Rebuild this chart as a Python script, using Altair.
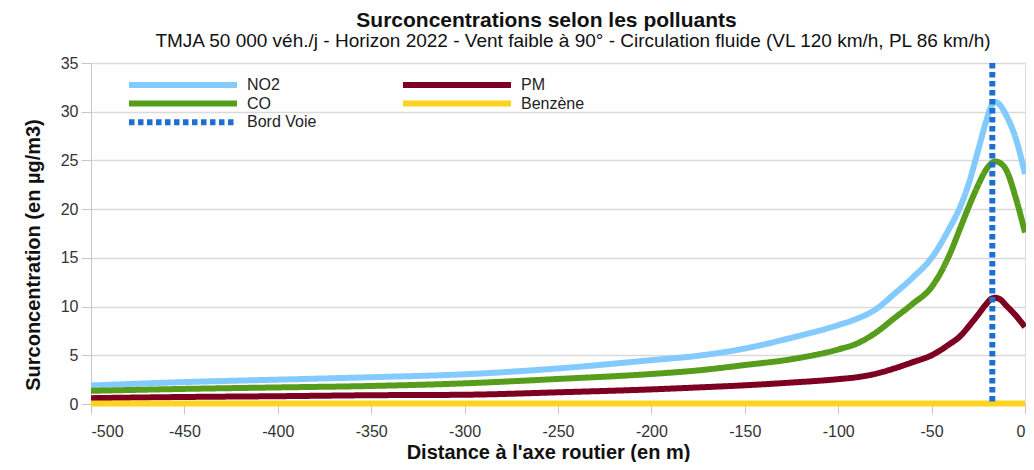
import altair as alt
import pandas as pd

# ---- data ----
distance = [-500, -450, -400, -350, -300, -250, -200, -175, -150, -125, -100, -90, -80,
            -70, -60, -50, -40, -35, -30, -25, -21, -18, -16, -13, -10, -5, 0]
no2 = [1.9, 2.25, 2.5, 2.75, 3.05, 3.65, 4.5, 4.95, 5.7, 6.8, 8.1, 8.75, 9.7,
       11.3, 13.0, 15.0, 18.2, 20.1, 22.7, 26.1, 28.9, 30.6, 31.0, 30.6, 29.6, 27.3, 23.6]
co = [1.35, 1.55, 1.7, 1.85, 2.12, 2.57, 3.08, 3.45, 4.0, 4.6, 5.6, 6.2, 7.3,
      8.8, 10.3, 12.0, 15.5, 17.9, 20.3, 22.5, 24.0, 24.7, 24.9, 24.7, 24.0, 21.2, 17.6]
pm = [0.6, 0.72, 0.8, 0.9, 0.95, 1.2, 1.5, 1.7, 1.92, 2.2, 2.55, 2.75, 3.1,
      3.65, 4.3, 5.0, 6.2, 6.9, 8.0, 9.2, 10.2, 10.8, 10.9, 10.7, 10.1, 9.1, 7.9]
benzene = [0.05, 0.05, 0.05, 0.05, 0.05, 0.05, 0.05, 0.05, 0.05, 0.05, 0.05, 0.05, 0.05,
           0.05, 0.05, 0.05, 0.05, 0.05, 0.05, 0.05, 0.05, 0.05, 0.05, 0.05, 0.05, 0.05, 0.05]
bord_voie = [-17.5]

# legend entries (filled column by column: NO2, CO, Bord Voie | PM, Benzène)
series_names = ["NO2", "CO", "Bord Voie", "PM", "Benzène"]
series_colors = ["#83caff", "#579d1c", "#1e6fd0", "#7e0021", "#ffd320"]
series_dashes = [[1, 0], [1, 0], [5.5, 3.5], [1, 0], [1, 0]]
series_widths = [6, 6, 3.2, 6, 6]

x_ticks = [-500, -450, -400, -350, -300, -250, -200, -150, -100, -50, 0]
y_ticks = [0, 5, 10, 15, 20, 25, 30, 35]

title_text = "Surconcentrations selon les polluants"
subtitle_text = "TMJA 50 000 véh./j - Horizon 2022 - Vent faible à 90° - Circulation fluide (VL 120 km/h, PL 86 km/h)"

FONT = "Liberation Sans"

rows = []
for name, vals in [("NO2", no2), ("CO", co), ("PM", pm), ("Benzène", benzene)]:
    for d, v in zip(distance, vals):
        rows.append({"distance": d, "value": v, "serie": name})
df = pd.DataFrame(rows)
df_rule = pd.DataFrame({"distance": bord_voie, "serie": ["Bord Voie"]})

legend = alt.Legend(
    title=None, orient="none", legendX=35, legendY=13, columns=2,
    symbolType="stroke", symbolSize=11664, clipHeight=18, rowPadding=0.6,
    columnPadding=83, labelFont=FONT, labelFontSize=16, labelColor="#222222",
    labelOffset=7, padding=0, symbolOffset=0, labelLimit=300,
)

color_enc = alt.Color("serie:N", scale=alt.Scale(domain=series_names, range=series_colors), legend=legend)
dash_enc = alt.StrokeDash("serie:N", scale=alt.Scale(domain=series_names, range=series_dashes), legend=legend)
width_enc = alt.StrokeWidth("serie:N", scale=alt.Scale(domain=series_names, range=series_widths), legend=legend)

x_enc = alt.X(
    "distance:Q",
    scale=alt.Scale(domain=[-500, 0], nice=False, zero=False),
    axis=alt.Axis(
        values=x_ticks, labelExpr="'' + datum.value", grid=False,
        title="Distance à l'axe routier (en m)", titleFont=FONT, titleFontSize=20,
        titleFontWeight="bold", titleColor="#111111", titleX=457, titleY=54,
        titleBaseline="alphabetic", titleAlign="center",
        labelFont=FONT, labelFontSize=16, labelColor="#333333", labelPadding=9,
        tickSize=10, tickColor="#c8c8c8", domainColor="#c8c8c8",
    ),
)
y_enc = alt.Y(
    "value:Q",
    scale=alt.Scale(domain=[0, 35], nice=False),
    axis=alt.Axis(
        values=y_ticks, grid=True, gridColor="#d9d9d9", gridWidth=1.3,
        title="Surconcentration (en µg/m3)", titleFont=FONT, titleFontSize=20,
        titleFontWeight="bold", titleColor="#111111", titleX=-52, titleY=191.5,
        titleBaseline="alphabetic", titleAlign="center", titleAngle=270,
        labelFont=FONT, labelFontSize=16, labelColor="#333333", labelPadding=3,
        tickSize=10, tickColor="#c8c8c8", domainColor="#c8c8c8",
    ),
)

lines = alt.Chart(df).mark_line(interpolate="monotone").encode(
    x=x_enc, y=y_enc, color=color_enc, strokeDash=dash_enc, strokeWidth=width_enc,
    detail="serie:N",
)

rule = alt.Chart(df_rule).mark_rule().encode(
    x=alt.X("distance:Q"), color=color_enc, strokeDash=dash_enc, strokeWidth=width_enc,
)

title_mark = alt.Chart(pd.DataFrame({"t": [title_text]})).mark_text(
    font=FONT, fontSize=21, fontWeight="bold", color="#111111",
    align="center", baseline="alphabetic",
).encode(x=alt.value(455.5), y=alt.value(-36.3), text="t:N")

subtitle_mark = alt.Chart(pd.DataFrame({"t": [subtitle_text]})).mark_text(
    font=FONT, fontSize=19, color="#111111", align="center", baseline="alphabetic",
).encode(x=alt.value(482), y=alt.value(-16.3), text="t:N")

chart = alt.layer(lines, rule, title_mark, subtitle_mark).properties(
    width=934, height=341,
    autosize=alt.AutoSizeParams(type="none"),
    padding={"left": 83, "top": 55, "right": 1, "bottom": 58},
).configure_view(stroke="#d9d9d9").configure(font=FONT)

chart.save("out.html", embed_options={"renderer": "svg", "actions": False})
